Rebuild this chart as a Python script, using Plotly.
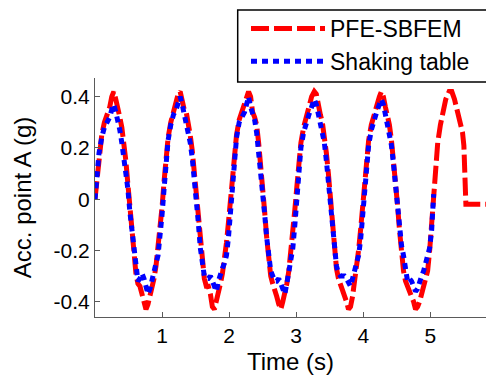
import plotly.graph_objects as go

# PFE-SBFEM (red dashed)
red_t = [0.00, 0.03, 0.06, 0.10, 0.14, 0.18, 0.22, 0.25, 0.28, 0.31, 0.34, 0.37, 0.40, 0.43, 0.46, 0.49, 0.52, 0.55, 0.58, 0.61, 0.64, 0.67, 0.70, 0.73, 0.76, 0.79, 0.82, 0.85, 0.88, 0.91, 0.94, 0.97, 1.00,
         1.03, 1.06, 1.09, 1.13, 1.17, 1.21, 1.24, 1.27, 1.30, 1.33, 1.36, 1.39, 1.42, 1.45, 1.48, 1.51, 1.54, 1.57, 1.60, 1.63, 1.66, 1.69, 1.72, 1.75, 1.78, 1.81, 1.84, 1.87, 1.90, 1.93, 1.96, 1.99, 2.02,
         2.05, 2.08, 2.11, 2.15, 2.19, 2.23, 2.26, 2.29, 2.32, 2.35, 2.38, 2.41, 2.44, 2.47, 2.50, 2.53, 2.56, 2.59, 2.62, 2.65, 2.68, 2.71, 2.74, 2.77, 2.80, 2.83, 2.86, 2.89, 2.92, 2.95, 2.98,
         3.01, 3.04, 3.07, 3.11, 3.15, 3.19, 3.23, 3.27, 3.30, 3.33, 3.36, 3.39, 3.42, 3.45, 3.48, 3.51, 3.54, 3.57, 3.60, 3.63, 3.66, 3.69, 3.72, 3.75, 3.78, 3.81, 3.84, 3.87, 3.90, 3.93, 3.96, 3.99,
         4.02, 4.05, 4.08, 4.12, 4.16, 4.20, 4.24, 4.27, 4.30, 4.33, 4.36, 4.39, 4.42, 4.45, 4.48, 4.51, 4.54, 4.57, 4.60, 4.63, 4.66, 4.69, 4.72, 4.75, 4.78, 4.81, 4.84, 4.87, 4.90, 4.93, 4.96, 4.99, 5.02,
         5.05, 5.08, 5.11, 5.15, 5.19, 5.23, 5.28, 5.32, 5.36, 5.40, 5.44, 5.48, 5.50, 5.51, 5.52, 5.53, 5.60, 5.75, 6.00]
red_v = [0.00, 0.09, 0.17, 0.25, 0.30, 0.33, 0.36, 0.40, 0.42, 0.39, 0.34, 0.32, 0.28, 0.22, 0.15, 0.06, -0.04, -0.13, -0.22, -0.29, -0.33, -0.34, -0.37, -0.41, -0.43, -0.41, -0.38, -0.34, -0.31, -0.26, -0.19, -0.11, -0.03,
         0.07, 0.16, 0.24, 0.30, 0.34, 0.38, 0.41, 0.42, 0.39, 0.35, 0.34, 0.30, 0.25, 0.19, 0.11, 0.02, -0.08, -0.18, -0.26, -0.31, -0.34, -0.34, -0.37, -0.42, -0.43, -0.40, -0.37, -0.33, -0.29, -0.24, -0.17, -0.09, 0.00,
         0.09, 0.17, 0.25, 0.31, 0.34, 0.37, 0.40, 0.42, 0.40, 0.34, 0.32, 0.29, 0.22, 0.14, 0.05, -0.05, -0.15, -0.24, -0.30, -0.33, -0.35, -0.38, -0.41, -0.43, -0.40, -0.37, -0.33, -0.28, -0.21, -0.13, -0.04,
         0.05, 0.14, 0.22, 0.28, 0.33, 0.36, 0.40, 0.42, 0.41, 0.36, 0.33, 0.30, 0.25, 0.18, 0.10, 0.01, -0.09, -0.19, -0.27, -0.31, -0.33, -0.35, -0.37, -0.40, -0.43, -0.42, -0.38, -0.33, -0.27, -0.20, -0.12, -0.03,
         0.06, 0.15, 0.23, 0.29, 0.33, 0.37, 0.40, 0.42, 0.40, 0.36, 0.33, 0.29, 0.23, 0.16, 0.08, -0.02, -0.12, -0.21, -0.28, -0.32, -0.34, -0.36, -0.37, -0.40, -0.43, -0.42, -0.40, -0.37, -0.34, -0.31, -0.28, -0.20, -0.08,
         0.03, 0.13, 0.22, 0.29, 0.35, 0.39, 0.42, 0.42, 0.39, 0.34, 0.31, 0.26, 0.21, 0.14, 0.05, -0.02, -0.02, -0.02, -0.02]

# Shaking table (blue dotted)
blue_t = [0.00, 0.03, 0.06, 0.10, 0.14, 0.18, 0.22, 0.25, 0.28, 0.31, 0.34, 0.37, 0.40, 0.43, 0.46, 0.49, 0.52, 0.55, 0.58, 0.61, 0.64, 0.67, 0.70, 0.73, 0.76, 0.79, 0.82, 0.85, 0.88, 0.91, 0.94, 0.97, 1.00,
          1.03, 1.06, 1.09, 1.13, 1.17, 1.21, 1.24, 1.27, 1.30, 1.33, 1.36, 1.39, 1.42, 1.45, 1.48, 1.51, 1.54, 1.57, 1.60, 1.63, 1.66, 1.69, 1.72, 1.75, 1.78, 1.81, 1.84, 1.87, 1.90, 1.93, 1.96, 1.99, 2.02,
          2.05, 2.08, 2.11, 2.15, 2.19, 2.23, 2.26, 2.29, 2.32, 2.35, 2.38, 2.41, 2.44, 2.47, 2.50, 2.53, 2.56, 2.59, 2.62, 2.65, 2.68, 2.71, 2.74, 2.77, 2.80, 2.83, 2.86, 2.89, 2.92, 2.95, 2.98,
          3.01, 3.04, 3.07, 3.11, 3.15, 3.19, 3.23, 3.27, 3.30, 3.33, 3.36, 3.39, 3.42, 3.45, 3.48, 3.51, 3.54, 3.57, 3.60, 3.63, 3.66, 3.69, 3.72, 3.75, 3.78, 3.81, 3.84, 3.87, 3.90, 3.93, 3.96, 3.99,
          4.02, 4.05, 4.08, 4.12, 4.16, 4.20, 4.24, 4.27, 4.30, 4.33, 4.36, 4.39, 4.42, 4.45, 4.48, 4.51, 4.54, 4.57, 4.60, 4.63, 4.66, 4.69, 4.72, 4.75, 4.78, 4.81, 4.84, 4.87, 4.90, 4.93, 4.96, 4.99, 5.02, 5.05]
blue_v = [0.00, 0.09, 0.18, 0.24, 0.28, 0.30, 0.32, 0.35, 0.37, 0.34, 0.31, 0.27, 0.22, 0.17, 0.11, 0.04, -0.05, -0.12, -0.21, -0.28, -0.32, -0.31, -0.29, -0.31, -0.34, -0.37, -0.35, -0.31, -0.28, -0.25, -0.22, -0.15, -0.06,
          0.04, 0.14, 0.23, 0.29, 0.33, 0.35, 0.38, 0.40, 0.37, 0.33, 0.31, 0.27, 0.22, 0.16, 0.09, 0.00, -0.09, -0.19, -0.26, -0.30, -0.31, -0.31, -0.30, -0.32, -0.35, -0.36, -0.32, -0.29, -0.27, -0.25, -0.22, -0.15, -0.06,
          0.06, 0.16, 0.24, 0.30, 0.32, 0.34, 0.37, 0.40, 0.36, 0.33, 0.31, 0.26, 0.19, 0.12, 0.03, -0.06, -0.15, -0.23, -0.28, -0.30, -0.32, -0.32, -0.31, -0.33, -0.35, -0.37, -0.33, -0.29, -0.25, -0.19, -0.10,
          0.02, 0.12, 0.20, 0.26, 0.30, 0.33, 0.36, 0.39, 0.37, 0.33, 0.30, 0.27, 0.22, 0.15, 0.07, -0.02, -0.11, -0.20, -0.26, -0.29, -0.30, -0.30, -0.30, -0.31, -0.33, -0.34, -0.31, -0.28, -0.25, -0.22, -0.16, -0.07,
          0.03, 0.12, 0.21, 0.27, 0.31, 0.34, 0.37, 0.39, 0.37, 0.33, 0.30, 0.26, 0.21, 0.14, 0.06, -0.03, -0.12, -0.18, -0.22, -0.28, -0.32, -0.31, -0.32, -0.34, -0.36, -0.35, -0.32, -0.30, -0.28, -0.25, -0.22, -0.19, -0.12, 0.02]

x_ticks = [1, 2, 3, 4, 5]
y_ticks = [-0.4, -0.2, 0, 0.2, 0.4]
y_tick_text = ["-0.4", "-0.2", "0", "0.2", "0.4"]

FONT = "Liberation Sans, Arial, sans-serif"
AX = "#5a5a5a"
FS_TICK = 21
FS_LEG = 23
FS_TITLE = 24

fig = go.Figure()
fig.add_trace(go.Scatter(x=red_t, y=red_v, mode="lines", name="PFE-SBFEM",
                         line=dict(color="#ff0000", width=5, dash="18px,5px")))
fig.add_trace(go.Scatter(x=blue_t, y=blue_v, mode="lines", name="Shaking table",
                         line=dict(color="#0000ff", width=5, dash="6px,5px")))

# legend frame (extends past the right edge of the page, as in the reference)
fig.add_shape(type="rect", xref="paper", yref="paper",
              x0=(237.7 - 95) / 391, x1=1.05,
              y0=(317 - 82) / 239, y1=(317 - 10) / 239,
              line=dict(color="black", width=1.5), fillcolor="white", layer="below")

fig.update_layout(
    width=486, height=375,
    margin=dict(l=95, r=0, t=78, b=58, autoexpand=False),
    paper_bgcolor="white", plot_bgcolor="rgba(0,0,0,0)",
    font=dict(family=FONT, size=FS_TICK, color="black"),
    showlegend=True,
    legend=dict(xref="container", yref="container", x=246 / 486, y=1 - 7 / 375,
                xanchor="left", yanchor="top",
                bgcolor="rgba(0,0,0,0)", borderwidth=0,
                itemwidth=74,
                font=dict(family=FONT, size=FS_LEG, color="black"),
                tracegroupgap=0, itemclick=False),
    xaxis=dict(range=[0, 5.83], showgrid=False, zeroline=False,
               showline=True, linecolor=AX, linewidth=1,
               ticks="inside", ticklen=5, tickcolor=AX,
               tickvals=x_ticks, ticktext=[str(v) for v in x_ticks],
               tickfont=dict(size=FS_TICK),
               title=dict(text="Time (s)", font=dict(size=FS_TITLE))),
    yaxis=dict(range=[-0.46, 0.473], showgrid=False, zeroline=False,
               showline=True, linecolor=AX, linewidth=1,
               ticks="inside", ticklen=5, tickcolor=AX,
               tickvals=y_ticks, ticktext=y_tick_text,
               tickfont=dict(size=FS_TICK),
               title=dict(text="Acc. point A (g)", font=dict(size=FS_TITLE))),
)

fig.write_html("out.html")
